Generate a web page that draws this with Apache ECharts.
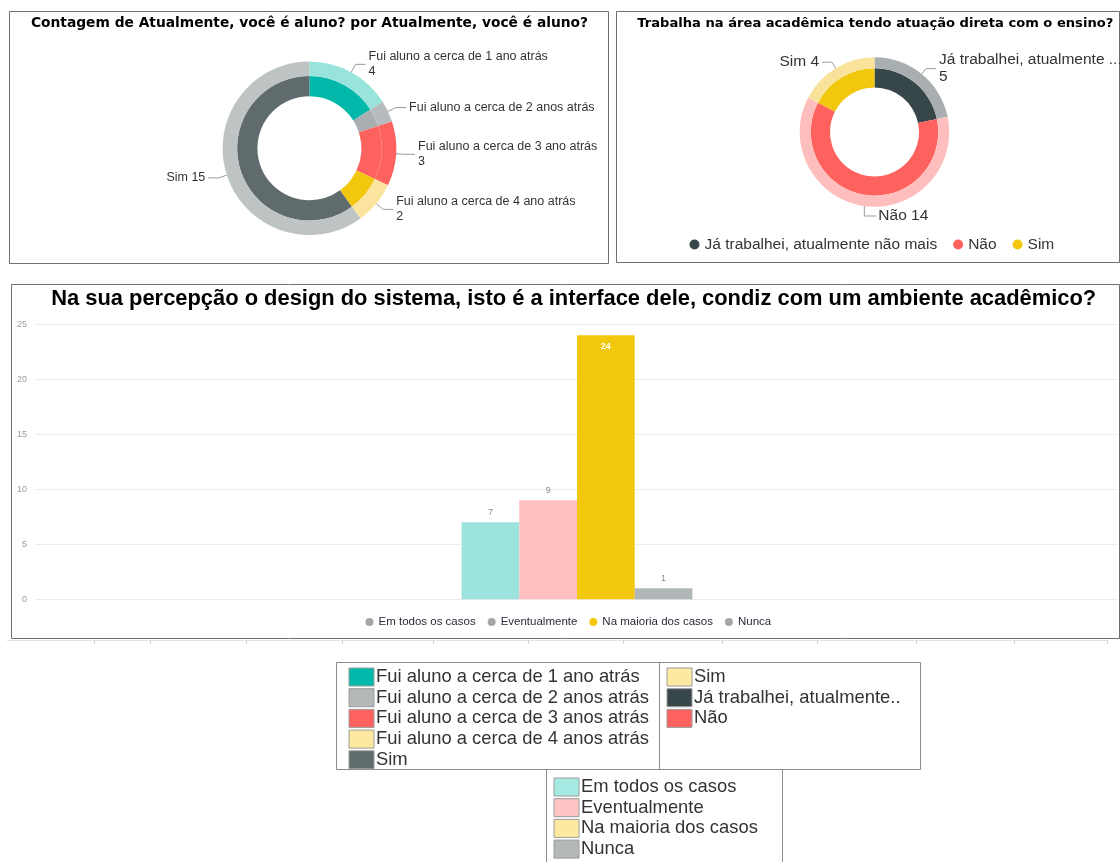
<!DOCTYPE html>
<html>
<head>
<meta charset="utf-8">
<script src="https://cdn.jsdelivr.net/npm/echarts@6/dist/echarts.min.js"></script>
<style>
  html, body { margin: 0; padding: 0; background: #ffffff; }
  #painel { width: 1120px; height: 862px; }
</style>
</head>
<body>
<div id="painel"></div>
<script>
// ---- Rosca 1: "Atualmente, você é aluno?" ----
const alunoRotulos = [
  'Fui aluno a cerca de 1 ano atrás',
  'Fui aluno a cerca de 2 anos atrás',
  'Fui aluno a cerca de 3 ano atrás',
  'Fui aluno a cerca de 4 ano atrás',
  'Sim'
];
const alunoValores = [4, 1, 3, 2, 15];
const alunoValorOculto = [false, true, false, false, false];
const alunoCoresInternas = ['#01B8AA', '#A9AFB1', '#FD625E', '#F2C80F', '#5F6B6D'];
const alunoCoresExternas = ['#99E3DD', '#B6BBBD', '#FD625E', '#FBE59E', '#BEC3C4'];

// ---- Rosca 2: "Trabalha na área acadêmica ..." ----
const trabalhaRotulos = ['Já trabalhei, atualmente não mais', 'Não', 'Sim'];
const trabalhaValores = [5, 14, 4];
const trabalhaCoresInternas = ['#374649', '#FD625E', '#F2C80F'];
const trabalhaCoresExternas = ['#A9AFB1', '#FEBEBD', '#F9E39B'];

// ---- Colunas: percepção do design ----
const designCategorias = ['Em todos os casos', 'Eventualmente', 'Na maioria dos casos', 'Nunca'];
const designValores = [7, 9, 24, 1];
const designCores = ['#9BE3DC', '#FEBFBF', '#F2C80F', '#B1B6B9'];
const designCoresLegenda = ['#A6A6A6', '#A6A6A6', '#F2C80F', '#A6A6A6'];
const eixoYMax = 25;
const eixoYPasso = 5;

// ---- Legendas em caixa, abaixo do painel ----
const legendaAlunoNomes = [
  'Fui aluno a cerca de 1 ano atrás',
  'Fui aluno a cerca de 2 anos atrás',
  'Fui aluno a cerca de 3 anos atrás',
  'Fui aluno a cerca de 4 anos atrás',
  'Sim'
];
const legendaAlunoCores = ['#01B8AA', '#B3B8B8', '#FD625E', '#FDEAA0', '#5F6B6D'];
const legendaTrabalhaNomes = ['Sim', 'Já trabalhei, atualmente..', 'Não'];
const legendaTrabalhaCores = ['#FDEAA0', '#374649', '#FD625E'];
const legendaDesignNomes = ['Em todos os casos', 'Eventualmente', 'Na maioria dos casos', 'Nunca'];
const legendaDesignCores = ['#A6EAE4', '#FFC5C5', '#FDEAA0', '#B3B8B8'];

const FONTE = '"Liberation Sans", Arial, sans-serif';
const FONTE_TITULO = '"DejaVu Sans", "Liberation Sans", sans-serif';

// texto do rótulo das fatias: nomes longos quebram linha antes do valor
function textoRotulo(nome, valor, oculto, corte) {
  const base = nome.length > corte ? nome.slice(0, corte) + '...' : nome;
  if (oculto) return base;
  return nome.length > 12 ? base + '\n' + valor : base + ' ' + valor;
}

function dadosPizza(nomes, valores, cores) {
  return nomes.map((n, i) => ({ name: n, value: valores[i], itemStyle: { color: cores[i] } }));
}

// fatias cujo meio fica embaixo da rosca: guia desce e o rótulo vai para a direita
function rotuloInferiorADireita(centro) {
  return function (p) {
    const pts = p.labelLinePoints;
    if (!pts || !pts.length) return {};
    const x0 = pts[0][0], y0 = pts[0][1];
    const ang = Math.atan2(centro[1] - y0, x0 - centro[0]) * 180 / Math.PI;
    if (ang < -70 && ang > -110) {
      const desce = 10, corre = 12;
      return {
        x: x0 + corre + 2,
        y: y0 + desce,
        align: 'left',
        verticalAlign: 'middle',
        labelLinePoints: [[x0, y0], [x0, y0 + desce], [x0 + corre, y0 + desce]]
      };
    }
    return {};
  };
}

function anel(centro, raio, nomes, valores, cores, rotulo) {
  const s = {
    type: 'pie',
    center: centro,
    radius: raio,
    startAngle: 90,
    clockwise: true,
    silent: true,
    animation: false,
    data: dadosPizza(nomes, valores, cores),
    label: { show: false },
    labelLine: { show: false }
  };
  if (rotulo) {
    s.label = Object.assign({
      show: true,
      position: 'outside',
      color: '#333333',
      fontFamily: FONTE,
      overflow: 'none',
      distanceToLabelLine: 3
    }, rotulo.estilo);
    s.labelLine = {
      show: true,
      length: rotulo.l1,
      length2: rotulo.l2,
      lineStyle: { color: '#9a9a9a', width: 1 }
    };
    s.labelLayout = rotuloInferiorADireita(centro);
  }
  return s;
}

const series = [
  // anel interno da rosca 2 primeiro: a legenda dela usa estas cores
  anel([874.5, 132], [44.5, 63.7], trabalhaRotulos, trabalhaValores, trabalhaCoresInternas),
  anel([874.5, 132], [63.7, 74.7], trabalhaRotulos, trabalhaValores, trabalhaCoresExternas, {
    l1: 7, l2: 10,
    estilo: {
      fontSize: 15.5, lineHeight: 17,
      formatter: p => textoRotulo(p.name, p.value, false, 25)
    }
  }),
  anel([309.4, 148.3], [52, 72.3], alunoRotulos, alunoValores, alunoCoresInternas),
  anel([309.4, 148.3], [72.3, 86.8], alunoRotulos, alunoValores, alunoCoresExternas, {
    l1: 9, l2: 10,
    estilo: {
      fontSize: 12.5, lineHeight: 15,
      formatter: p => textoRotulo(p.name, p.value, alunoValorOculto[p.dataIndex], 100)
    }
  })
];

designCategorias.forEach((nome, i) => {
  const v = designValores[i];
  const dentro = v >= 0.8 * eixoYMax;
  series.push({
    type: 'bar',
    name: nome,
    data: [v],
    barWidth: 57.7,
    barGap: '0%',
    silent: true,
    animation: false,
    itemStyle: { color: designCores[i] },
    label: {
      show: true,
      position: dentro ? 'insideTop' : 'top',
      distance: dentro ? 7 : 5,
      fontSize: 9,
      fontFamily: FONTE,
      fontWeight: dentro ? 'bold' : 'normal',
      color: dentro ? '#ffffff' : '#8a8a8a'
    }
  });
});

// ---- elementos de moldura, títulos e legendas em caixa ----
const graficos = [];
function moldura(x1, y1, x2, y2, cor) {
  graficos.push({
    type: 'rect', silent: true,
    shape: { x: x1, y: y1, width: x2 - x1, height: y2 - y1 },
    style: { fill: null, stroke: cor || '#707070', lineWidth: 1 }
  });
}
function linha(x1, y1, x2, y2, cor) {
  graficos.push({
    type: 'line', silent: true,
    shape: { x1, y1, x2, y2 },
    style: { stroke: cor || '#707070', lineWidth: 1 }
  });
}
function titulo(texto, cx, cy, tam, familia) {
  graficos.push({
    type: 'text', silent: true, x: cx, y: cy,
    style: {
      text: texto, fill: '#000000', font: 'bold ' + tam + 'px ' + familia,
      textAlign: 'center', textVerticalAlign: 'middle'
    }
  });
}
function blocoLegenda(x, yCentro, nomes, cores) {
  const passo = 20.7;
  nomes.forEach((n, i) => {
    const cy = yCentro + i * passo;
    graficos.push({
      type: 'rect', silent: true,
      shape: { x: x, y: cy - 9, width: 25, height: 18 },
      style: { fill: cores[i], stroke: '#9c9c9c', lineWidth: 1 }
    });
    graficos.push({
      type: 'text', silent: true, x: x + 27, y: cy,
      style: {
        text: n, fill: '#333333', font: '18.4px ' + FONTE,
        textAlign: 'left', textVerticalAlign: 'middle'
      }
    });
  });
}

moldura(9.5, 11.5, 608.5, 263.5);
moldura(616.5, 11.5, 1119.5, 262.5);
moldura(11.5, 284.5, 1119.5, 638.5);
titulo('Contagem de Atualmente, você é aluno? por Atualmente, você é aluno?', 309.5, 23.5, 13.8, FONTE_TITULO);
titulo('Trabalha na área acadêmica tendo atuação direta com o ensino?', 875.3, 23.5, 13.1, FONTE_TITULO);
titulo('Na sua percepção o design do sistema, isto é a interface dele, condiz com um ambiente acadêmico?', 573.7, 298.5, 21.9, FONTE);

// régua clara logo abaixo do painel de colunas
linha(7, 640.5, 1107, 640.5, '#e2e2e2');
[94, 150, 246, 342, 433, 528, 623, 722, 817, 916, 1014, 1107].forEach(x => linha(x + 0.5, 640, x + 0.5, 644, '#d0d0d0'));

// caixas de legenda
moldura(336.5, 662.5, 920.5, 769.5, '#8c8c8c');
linha(659.5, 662.5, 659.5, 769.5, '#8c8c8c');
linha(546.5, 769.5, 546.5, 870, '#8c8c8c');
linha(782.5, 769.5, 782.5, 870, '#8c8c8c');
blocoLegenda(349, 677, legendaAlunoNomes, legendaAlunoCores);
blocoLegenda(667, 677, legendaTrabalhaNomes, legendaTrabalhaCores);
blocoLegenda(554, 787, legendaDesignNomes, legendaDesignCores);

const option = {
  animation: false,
  backgroundColor: '#ffffff',
  textStyle: { fontFamily: FONTE },
  grid: { left: 36, right: 2, top: 324.3, height: 275, containLabel: false },
  xAxis: {
    type: 'category',
    data: [''],
    axisLine: { show: false },
    axisTick: { show: false },
    axisLabel: { show: false },
    splitLine: { show: false }
  },
  yAxis: {
    type: 'value',
    min: 0,
    max: eixoYMax,
    interval: eixoYPasso,
    axisLine: { show: false },
    axisTick: { show: false },
    axisLabel: { fontSize: 9, color: '#9a9a9a', margin: 9, fontFamily: FONTE },
    splitLine: { lineStyle: { color: '#ececec', width: 1 } }
  },
  legend: [
    {
      data: trabalhaRotulos,
      left: 689.5,
      top: 236.5,
      padding: 0,
      icon: 'circle',
      itemWidth: 10,
      itemHeight: 10,
      itemGap: 16,
      selectedMode: false,
      textStyle: { fontSize: 15.5, color: '#333333', fontFamily: FONTE }
    },
    {
      data: designCategorias.map((n, i) => ({ name: n, itemStyle: { color: designCoresLegenda[i] } })),
      left: 365.5,
      top: 616,
      padding: 0,
      icon: 'circle',
      itemWidth: 8,
      itemHeight: 8,
      itemGap: 12,
      selectedMode: false,
      textStyle: { fontSize: 11.5, color: '#2b2b3b', fontFamily: FONTE }
    }
  ],
  series: series,
  graphic: { elements: graficos }
};

const grafico = echarts.init(document.getElementById('painel'), null, { renderer: 'canvas', width: 1120, height: 862 });
grafico.setOption(option);
</script>
</body>
</html>
